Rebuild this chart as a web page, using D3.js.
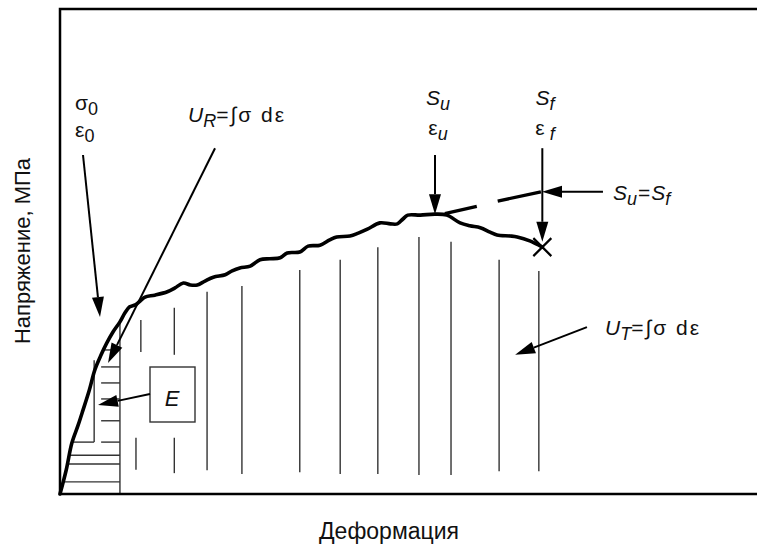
<!DOCTYPE html>
<html><head><meta charset="utf-8">
<script src="https://cdn.jsdelivr.net/npm/d3@7"></script>
<style>
body{margin:0;background:#fff;}
svg{display:block;font-family:"Liberation Sans",Arial,sans-serif;}
</style></head><body>
<svg id="c" width="757" height="550"></svg>
<script>
// Stress-strain curve (strain, stress) in relative units 0..100
const curveStrain = [0,0.9,1.7,2.6,3.3,4.2,5.0,5.9,6.7,7.6,8.6,9.3,10.0,10.8,11.5,12.2,13.6,15.4,16.5,17.7,18.7,19.7,20.8,22.0,23.7,24.7,25.8,27.3,28.7,30.1,31.6,32.6,34.4,35.6,37.3,38.7,39.7,41.6,42.8,44.1,45.9,47.4,48.4,49.2,49.9,51.7,53.8,55.5,57.4,58.8,60.3,61.7,62.7,64.6,65.6,67.4,69.2];
const curveStress = [0,5.0,10.5,14.2,17.3,21.4,25.6,28.7,31.1,33.4,35.5,37.3,38.6,39.0,39.8,40.6,41.0,41.7,42.5,43.5,43.1,43.1,43.9,44.7,45.2,46.0,46.6,47.0,48.3,48.5,48.7,49.7,49.9,51.1,51.3,52.4,53.0,53.2,53.8,54.6,55.9,55.7,55.7,56.7,57.5,57.5,57.7,57.5,55.9,55.3,54.9,54.0,53.4,53.2,53.0,52.2,50.9];
// Key points
const ultimate = {strain:53.8, stress:57.7};
const fracture = {strain:69.2, stress:50.9};
// Tangent (Su = Sf) line pieces
const tangentStrain = [[55.2,59.8],[62.8,69.0]];
const tangentStress = [[57.8,59.3],[60.4,62.3]];
// Vertical hatching (toughness area): strain, top, bottom
const hatchVStrain = [11.6,10.9,16.4,16.4,21.1,26.1,34.4,40.2,45.6,51.5,56.1,63.0,68.7];
const hatchVTop    = [35.9,11.6,38.4,11.6,41.7,42.9,46.2,48.3,50.9,53.0,52.0,48.3,46.0];
const hatchVBottom = [29.3,5.0,28.7,4.3,4.9,4.1,4.5,4.1,4.1,3.9,3.9,4.7,4.7];
// Horizontal hatching (resilience area): stress, strain from, strain to
const hatchHStress = [29.7,26.2,22.9,19.6,15.1,10.7,10.7,8.0,6.2,2.5];
const hatchHFrom   = [6.2,5.9,5.9,5.9,5.9,1.9,5.9,1.4,1.0,0.4];
const hatchHTo     = [8.6,8.6,8.6,8.6,8.6,4.9,8.6,8.6,8.6,8.6];
// Border lines of resilience area: [strain0, stress0, strain1, stress1]
const elasticEdges = [[8.6,35.5,8.6,0],[4.9,27.6,4.9,10.7]];

const svg = d3.select("#c");
const x = d3.scaleLinear().domain([0,100]).range([60,757]);
const y = d3.scaleLinear().domain([0,100]).range([494,9]);

// hatching
const g = svg.append("g").attr("stroke","#333").attr("stroke-width",1.4);
hatchVStrain.forEach((s,i)=>{
  g.append("line").attr("x1",x(s)).attr("x2",x(s)).attr("y1",y(hatchVTop[i])).attr("y2",y(hatchVBottom[i]));
});
hatchHStress.forEach((s,i)=>{
  g.append("line").attr("x1",x(hatchHFrom[i])).attr("x2",x(hatchHTo[i])).attr("y1",y(s)).attr("y2",y(s));
});
elasticEdges.forEach(e=>{
  g.append("line").attr("x1",x(e[0])).attr("y1",y(e[1])).attr("x2",x(e[2])).attr("y2",y(e[3]));
});

// frame (open on the right)
svg.append("path").attr("d",`M${x(100)+5},${y(100)}H${x(0)}V${y(0)}H${x(100)+5}`)
  .attr("fill","none").attr("stroke","#000").attr("stroke-width",2.5);

// E box
svg.append("rect").attr("x",150).attr("y",367).attr("width",45).attr("height",55)
  .attr("fill","#fff").attr("stroke","#333").attr("stroke-width",1.4);

// curve
const pts = curveStrain.map((s,i)=>[x(s),y(curveStress[i])]);
svg.append("path").attr("d",d3.line().curve(d3.curveCatmullRom.alpha(0.5))(pts)).attr("fill","none")
  .attr("stroke","#000").attr("stroke-width",3.6).attr("stroke-linejoin","round").attr("stroke-linecap","round");

// tangent pieces
tangentStrain.forEach((t,i)=>{
  svg.append("line").attr("x1",x(t[0])).attr("x2",x(t[1]))
    .attr("y1",y(tangentStress[i][0])).attr("y2",y(tangentStress[i][1]))
    .attr("stroke","#000").attr("stroke-width",3.4);
});

// fracture X
const fx=x(fracture.strain), fy=y(fracture.stress), r=9;
svg.append("path").attr("d",`M${fx-r},${fy-r}L${fx+r},${fy+r}M${fx+r},${fy-r}L${fx-r},${fy+r}`)
  .attr("stroke","#000").attr("stroke-width",2.2).attr("fill","none");

// arrows (start, tip) in data units
const arrows = [
  [[3.3,69.9],[5.74,36.5]],
  [[22.24,71.3],[6.89,27.0]],
  [[12.91,20.6],[5.45,18.35]],
  [[ultimate.strain,69.9],[ultimate.strain,ultimate.stress]],
  [[fracture.strain,71.3],[fracture.strain,52.0]],
  [[77.9,62.3],[69.15,62.3]],
  [[75.6,34.4],[65.3,28.7]]
];
arrows.forEach(a=>{
  const x0=x(a[0][0]),y0=y(a[0][1]),x1=x(a[1][0]),y1=y(a[1][1]);
  const ang=Math.atan2(y1-y0,x1-x0), L=20, W=6;
  const bx=x1-L*Math.cos(ang), by=y1-L*Math.sin(ang);
  svg.append("line").attr("x1",x0).attr("y1",y0).attr("x2",bx).attr("y2",by)
    .attr("stroke","#000").attr("stroke-width",2);
  const px=-Math.sin(ang)*W, py=Math.cos(ang)*W;
  svg.append("path").attr("d",`M${x1},${y1}L${bx+px},${by+py}L${bx-px},${by-py}Z`).attr("fill","#000");
});

// text labels
function label(xp,yp,parts,anchor){
  const t=svg.append("text").attr("x",xp).attr("y",yp).attr("font-size",21)
    .attr("text-anchor",anchor||"start").attr("fill","#111");
  parts.forEach(p=>{
    const s=t.append("tspan").text(p.t);
    if(p.i) s.attr("font-style","italic");
    if(p.sub) s.attr("font-size",18).attr("dy",5);
    if(p.back) s.attr("dy",-5);
    if(p.ls) s.attr("letter-spacing",p.ls);
  });
  return t;
}
label(75,110,[{t:"σ"},{t:"0",sub:1}]);
label(75,137,[{t:"ε"},{t:"0",sub:1}]);
label(188,122,[{t:"U",i:1},{t:"R",i:1,sub:1},{t:"=∫σ dε",back:1,ls:2}]);
label(438,105,[{t:"S",i:1},{t:"u",i:1,sub:1}],"middle");
label(438,135,[{t:"ε"},{t:"u",i:1,sub:1}],"middle");
label(545,105,[{t:"S",i:1},{t:"f",i:1,sub:1}],"middle");
label(545,135,[{t:"ε"},{t:" f",i:1,sub:1}],"middle");
label(613,200,[{t:"S",i:1},{t:"u",i:1,sub:1,ls:1},{t:"=",back:1,ls:1},{t:"S",i:1},{t:"f",i:1,sub:1}]);
label(605,335,[{t:"U",i:1},{t:"T",i:1,sub:1},{t:"=∫σ dε",back:1,ls:2}]);
label(172,406,[{t:"E",i:1}],"middle").attr("font-size",22);

svg.append("text").attr("transform","translate(30,251) rotate(-90)").attr("text-anchor","middle")
  .attr("font-size",22).attr("fill","#111").text("Напряжение, МПа");
svg.append("text").attr("x",389).attr("y",539).attr("text-anchor","middle")
  .attr("font-size",23).attr("fill","#111").text("Деформация");
</script></body></html>
